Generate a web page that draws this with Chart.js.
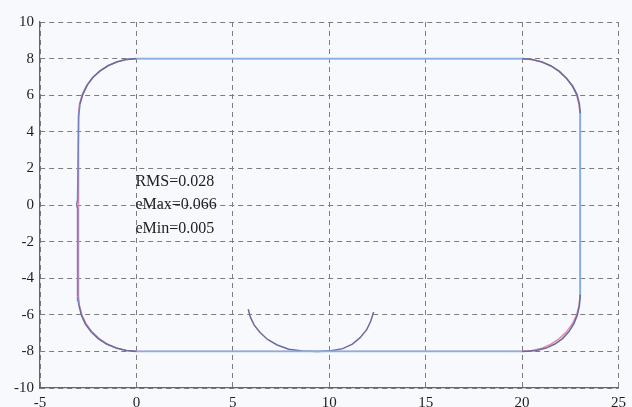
<!DOCTYPE html>
<html>
<head>
<meta charset="utf-8">
<script src="https://cdn.jsdelivr.net/npm/chart.js@4.4.0/dist/chart.umd.min.js"></script>
<style>
html,body{margin:0;padding:0;background:#f8f9fd;}
#wrap{width:632px;height:407px;}
</style>
</head>
<body>
<div id="wrap"><canvas id="c" width="632" height="407"></canvas></div>
<script>
const refX = [-3, -3, -2.95, -2.82, -2.6, -2.3, -1.93, -1.5, -1.03, -0.52, 0, 20, 20.52, 21.03, 21.5, 21.93, 22.3, 22.6, 22.82, 22.95, 23, 23, 22.95, 22.82, 22.6, 22.3, 21.93, 21.5, 21.03, 20.52, 20, 0, -0.52, -1.03, -1.5, -1.93, -2.3, -2.6, -2.82, -2.95, -3];
const refY = [-5, 5, 5.52, 6.03, 6.5, 6.93, 7.3, 7.6, 7.82, 7.95, 8, 8, 7.95, 7.82, 7.6, 7.3, 6.93, 6.5, 6.03, 5.52, 5, -5, -5.52, -6.03, -6.5, -6.93, -7.3, -7.6, -7.82, -7.95, -8, -8, -7.95, -7.82, -7.6, -7.3, -6.93, -6.5, -6.03, -5.52, -5];
const actX = [-3.05, -3.05, -3.1, -3.05, -3.0, -2.93, -2.78, -2.55, -2.25, -1.88, -1.45, -0.98, -0.5, 0, 20, 20.52, 21.03, 21.5, 21.93, 22.3, 22.62, 22.85, 22.97, 23.02, 23.02, 22.97, 22.86, 22.68, 22.42, 22.1, 21.7, 21.25, 20.75, 20.3, 20, 0, -0.52, -1.05, -1.55, -1.98, -2.35, -2.65, -2.85, -2.97, -3.03, -3.05];
const actY = [-5, -0.2, 0, 0.3, 4.8, 5.5, 6.05, 6.55, 6.98, 7.33, 7.62, 7.83, 7.96, 8, 8, 7.95, 7.82, 7.6, 7.3, 6.93, 6.5, 6.03, 5.52, 5, -4.9, -5.5, -6.02, -6.5, -6.93, -7.3, -7.6, -7.82, -7.95, -7.99, -8, -8, -7.95, -7.82, -7.6, -7.3, -6.93, -6.5, -6.03, -5.52, -5.2, -5];
const arcX = [5.8, 5.9, 6.1, 6.4, 6.8, 7.3, 7.9, 8.6, 9.4, 10.1, 10.7, 11.2, 11.6, 11.95, 12.15, 12.3];
const arcY = [-5.7, -6.1, -6.55, -6.95, -7.35, -7.65, -7.88, -7.98, -8.0, -7.97, -7.85, -7.6, -7.25, -6.8, -6.35, -5.85];
const xTicks = [-5, 0, 5, 10, 15, 20, 25];
const yTicks = [-10, -8, -6, -4, -2, 0, 2, 4, 6, 8, 10];
const notes = ["RMS=0.028", "eMax=0.066", "eMin=0.005"];
const noteX = [0, 0, 0];
const noteY = [1.26, 0, -1.3];

const pts = (xs, ys) => xs.map((x, i) => ({x: x, y: ys[i]}));

const bgPlugin = {
  id: 'bg',
  beforeDraw(chart) {
    const ctx = chart.ctx;
    ctx.save();
    ctx.fillStyle = '#f8f9fd';
    ctx.fillRect(0, 0, chart.width, chart.height);
    ctx.restore();
  }
};
const notePlugin = {
  id: 'notes',
  afterDatasetsDraw(chart) {
    const ctx = chart.ctx;
    const xs = chart.scales.x, ys = chart.scales.y;
    ctx.save();
    ctx.font = '16px "Liberation Serif", "DejaVu Serif", serif';
    ctx.fillStyle = '#1e1e1e';
    ctx.textBaseline = 'middle';
    ctx.textAlign = 'left';
    notes.forEach((t, i) => {
      ctx.fillText(t, xs.getPixelForValue(noteX[i]) - 1, ys.getPixelForValue(noteY[i]));
    });
    ctx.restore();
  }
};

const tickFont = {family: '"Liberation Serif", "DejaVu Serif", serif', size: 15};
const CURVE = '#6a6c9e';
const LEFTSIDE = '#7480c0';

new Chart(document.getElementById('c'), {
  type: 'scatter',
  data: {
    datasets: [
      {data: pts(actX, actY), order: 1, showLine: true, borderColor: '#86b0e2', borderWidth: 1.6, pointRadius: 0, fill: false, tension: 0,
        segment: {borderColor: c => {
          const dx = Math.abs(c.p1.parsed.x - c.p0.parsed.x), dy = Math.abs(c.p1.parsed.y - c.p0.parsed.y);
          if (c.p0.parsed.x < -2.9 && c.p1.parsed.x < -2.9) return LEFTSIDE;
          return (dx < 3 && dy < 3) ? CURVE : undefined;
        }}},
      {data: pts(arcX, arcY), order: 1, showLine: true, borderColor: CURVE, borderWidth: 1.5, pointRadius: 0, fill: false, tension: 0},
      {data: pts(refX, refY), order: 2, showLine: true, borderColor: '#e08aa8', borderWidth: 1.4, pointRadius: 0, fill: false, tension: 0}
    ]
  },
  options: {
    responsive: false,
    animation: false,
    devicePixelRatio: 1,
    layout: {padding: {top: 22, right: 8, left: 0, bottom: 0}},
    plugins: {legend: {display: false}, tooltip: {enabled: false}},
    scales: {
      x: {
        type: 'linear', min: -5, max: 25,
        afterBuildTicks: s => { s.ticks = xTicks.map(v => ({value: v})); },
        afterFit: s => { s.height = 19; },
        ticks: {font: tickFont, color: '#1e1e1e', padding: 6, maxRotation: 0},
        grid: {color: '#7d7d7d', lineWidth: 1, drawTicks: false},
        border: {display: true, color: '#666', width: 1.2, dash: [5, 4]}
      },
      y: {
        type: 'linear', min: -10, max: 10,
        afterBuildTicks: s => { s.ticks = yTicks.map(v => ({value: v})); },
        afterFit: s => { s.width = 40; },
        ticks: {font: tickFont, color: '#1e1e1e', padding: 6},
        grid: {color: '#7d7d7d', lineWidth: 1, drawTicks: false},
        border: {display: true, color: '#666', width: 1.2, dash: [5, 4]}
      }
    }
  },
  plugins: [bgPlugin, notePlugin]
});
</script>
</body>
</html>
